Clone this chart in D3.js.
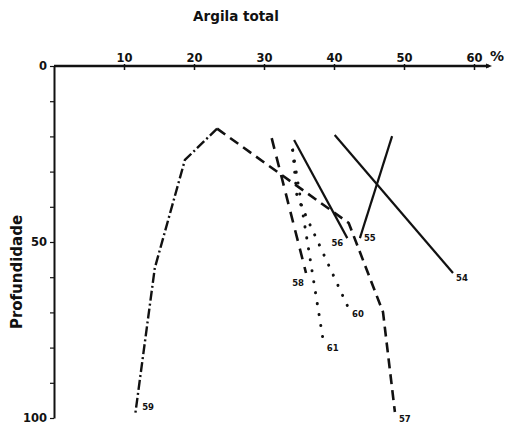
<!DOCTYPE html>
<html lang="pt">
<head>
    <meta charset="UTF-8">
    <title>Argila total</title>
    <style>
        body { margin: 0; background: #fff; }
        text { font-family: "DejaVu Sans", sans-serif; font-weight: bold; fill: #111; }
        .tick line { stroke: #111; }
        .serie { fill: none; stroke: #111; }
    </style>
    <script src="https://cdn.jsdelivr.net/npm/d3@7/dist/d3.min.js"></script>
</head>
<body>
<svg class="chart" width="510" height="428"></svg>
<script>
    // perfis (número do perfil) e valores: argila (%) x profundidade (cm)
    const perfis = ['54', '55', '56', '57', '58', '59', '60', '61'];
    const argila54 = [40.1, 57.0],             prof54 = [19.6, 58.8];
    const argila55 = [48.3, 43.7],             prof55 = [19.9, 48.9];
    const argila56 = [34.3, 41.9],             prof56 = [21.0, 48.9];
    const argila57 = [23.3, 42.1, 47.0, 48.7], prof57 = [17.8, 44.6, 69.9, 98.3];
    const argila58 = [31.1, 36.0],             prof58 = [20.5, 58.8];
    const argila59 = [23.3, 18.7, 14.4, 11.6], prof59 = [17.8, 26.7, 57.4, 99.0];
    const argila60 = [34.1, 34.7, 42.0],       prof60 = [23.9, 37.0, 68.5];
    const argila61 = [34.1, 38.4],             prof61 = [23.9, 77.3];

    const xTicks = [10, 20, 30, 40, 50, 60];
    const yTicks = [0, 10, 20, 30, 40, 50, 60, 70, 80, 90, 100];
    const yLabels = [0, 50, 100];

    const argila = {54: argila54, 55: argila55, 56: argila56, 57: argila57, 58: argila58, 59: argila59, 60: argila60, 61: argila61};
    const prof = {54: prof54, 55: prof55, 56: prof56, 57: prof57, 58: prof58, 59: prof59, 60: prof60, 61: prof61};

    // estilo de linha de cada perfil
    const estilo = {
        54: {dash: null, w: 2.2},
        55: {dash: null, w: 2.2},
        56: {dash: null, w: 2.2},
        57: {dash: '10 6', w: 2.6},
        58: {dash: '11 8', w: 2.6},
        59: {dash: '10 3 2 3', w: 2.4},
        60: {dash: '0.1 11', w: 3, cap: 'round'},
        61: {dash: '0.1 11', w: 3, cap: 'round'}
    };
    // posição do rótulo relativa ao ponto mais profundo
    const rotulo = {
        54: [3, 8, 'start'], 55: [4, 3, 'start'], 56: [-4, 8, 'end'], 57: [4, 10, 'start'],
        58: [-2, 13, 'end'], 59: [7, -4, 'start'], 60: [4, 10, 'start'], 61: [4, 13, 'start']
    };

    const svg = d3.select('.chart');

    let x = d3.scaleLinear().domain([0, 60]).range([54, 474]),
        y = d3.scaleLinear().domain([0, 100]).range([66, 418]);

    /**
     * eixo X (em cima)
     */
    let xAxis = d3.axisTop(x).tickValues(xTicks).tickSizeInner(-4).tickSizeOuter(0).tickPadding(4);
    let gx = svg.append('g').attr('transform', 'translate(0,' + y(0) + ')').call(xAxis);
    gx.select('.domain').remove();
    gx.selectAll('.tick line').attr('y1', -2).attr('stroke-width', 1.5);
    gx.selectAll('.tick text').style('font-size', '11.5px').attr('fill', '#111');

    svg.append('line')
        .attr('x1', x(0)).attr('x2', x(60) + 15)
        .attr('y1', y(0)).attr('y2', y(0))
        .attr('stroke', '#111').attr('stroke-width', 2.6);
    svg.append('path')
        .attr('d', 'M' + (x(60) + 12) + ',' + (y(0) - 2.5) + 'L' + (x(60) + 18) + ',' + y(0) + 'L' + (x(60) + 12) + ',' + (y(0) + 2.5) + 'Z')
        .attr('fill', '#111');
    svg.append('text').attr('x', x(60) + 16).attr('y', y(0) - 5)
        .style('font-size', '14px').text('%');

    /**
     * eixo Y (profundidade)
     */
    let yAxis = d3.axisLeft(y).tickValues(yTicks).tickSizeInner(4).tickSizeOuter(0).tickPadding(3)
        .tickFormat(d => yLabels.includes(d) ? d : '');
    let gy = svg.append('g').attr('transform', 'translate(' + x(0) + ',0)').call(yAxis);
    gy.select('.domain').attr('stroke', '#111').attr('stroke-width', 2);
    gy.selectAll('.tick line').attr('stroke-width', 1.2);
    gy.selectAll('.tick text').style('font-size', '11.5px').attr('fill', '#111');

    /**
     * títulos
     */
    svg.append('text').attr('x', 236).attr('y', 21).attr('text-anchor', 'middle')
        .style('font-size', '13.5px').text('Argila total');
    svg.append('text').attr('transform', 'translate(22,272) rotate(-90)').attr('text-anchor', 'middle')
        .style('font-size', '15px').text('Profundidade');

    /**
     * curvas dos perfis
     */
    let linha = d3.line().x(d => x(d[0])).y(d => y(d[1]));

    perfis.forEach(p => {
        let pts = argila[p].map((v, i) => [v, prof[p][i]]);
        let e = estilo[p];
        svg.append('path')
            .datum(pts)
            .attr('class', 'serie')
            .attr('d', linha)
            .attr('stroke-width', e.w)
            .attr('stroke-dasharray', e.dash)
            .attr('stroke-linecap', e.cap || 'butt');

        let fim = pts[pts.length - 1], r = rotulo[p];
        svg.append('text')
            .attr('x', x(fim[0]) + r[0])
            .attr('y', y(fim[1]) + r[1])
            .attr('text-anchor', r[2])
            .style('font-size', '8.5px')
            .text(p);
    });
</script>
</body>
</html>
